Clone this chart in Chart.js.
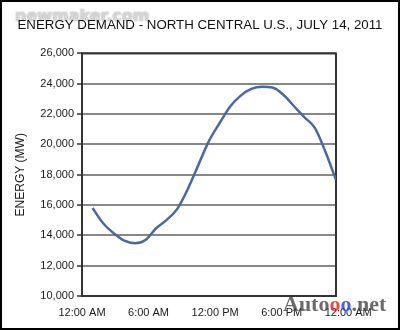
<!DOCTYPE html>
<html>
<head>
<meta charset="utf-8">
<script src="https://cdn.jsdelivr.net/npm/chart.js@4.4.1/dist/chart.umd.min.js"></script>
<style>
  body { margin: 0; background: #fff; }
  #frame { position: relative; width: 400px; height: 330px; box-sizing: border-box; border: 2px solid #000; background: #fff; overflow: hidden; }
  #demandChart { position: absolute; left: 0; top: 0; z-index: 1; }
  .mark { position: absolute; white-space: nowrap; pointer-events: none; }
  #markTop { left: 13px; top: 5.5px; z-index: 0; font: bold 16px/16px 'DejaVu Sans', sans-serif; color: #d6d6d6; text-shadow: 0 0 2px #aaa; }
  #markBottom { left: 281px; top: 290.6px; z-index: 2; font: bold 22px/22px 'Liberation Serif', serif; color: rgba(70, 70, 70, 0.8); }
</style>
</head>
<body>
<div id="frame">
  <span class="mark" id="markTop">newmaker.com</span>
  <canvas id="demandChart" width="396" height="326"></canvas>
  <span class="mark" id="markBottom">Auto<span style="color:rgba(235,40,40,0.85)">o</span><span style="color:rgba(40,70,235,0.85)">o</span>.net</span>
</div>
<script>
// hourly load, 1 AM .. midnight
const hours = [1, 2, 3, 4, 5, 6, 7, 8, 9, 10, 11, 12, 13, 14, 15, 16, 17, 18, 19, 20, 21, 22, 23, 24];
const demand = [15800, 14800, 14140, 13650, 13480, 13700, 14470, 15020, 15750, 17060, 18650, 20230,
  21400, 22500, 23220, 23660, 23800, 23750, 23290, 22550, 21800, 21090, 19520, 17660];

const timeLabels = ['12:00 AM', '6:00 AM', '12:00 PM', '6:00 PM', '12:00 AM'];
const timeTickHours = [0, 6, 12, 18, 24];

Chart.defaults.font.family = "'Liberation Sans', Arial, sans-serif";
Chart.defaults.color = '#1a1a1a';

// dark box around the plot area
const plotFrame = {
  id: 'plotFrame',
  beforeDatasetsDraw(chart) {
    const { ctx, chartArea: a } = chart;
    ctx.save();
    ctx.strokeStyle = '#333';
    ctx.lineWidth = 2;
    ctx.strokeRect(a.left, a.top, a.right - a.left, a.bottom - a.top);
    ctx.restore();
  }
};

const ctx = document.getElementById('demandChart');

new Chart(ctx, {
  type: 'line',
  data: {
    datasets: [{
      data: hours.map((h, i) => ({ x: h, y: demand[i] })),
      borderColor: '#4a68a6',
      borderWidth: 2.5,
      pointRadius: 0,
      cubicInterpolationMode: 'monotone',
      fill: false,
      xAxisID: 'x',
      yAxisID: 'y'
    }]
  },
  options: {
    responsive: false,
    animation: false,
    layout: { padding: 0 },
    plugins: {
      legend: { display: false },
      tooltip: { enabled: false },
      title: {
        display: true,
        text: 'ENERGY DEMAND - NORTH CENTRAL U.S., JULY 14, 2011',
        color: '#111',
        font: { size: 13.3, weight: 'normal' },
        padding: { top: 15.5, bottom: 20 }
      }
    },
    scales: {
      x: {
        type: 'linear',
        min: 0,
        max: 24,
        display: false
      },
      // label row under the plot
      xl: {
        type: 'linear',
        position: 'bottom',
        min: 0,
        max: 22.9,
        afterBuildTicks: (scale) => {
          scale.ticks = timeTickHours.map((v) => ({ value: v }));
        },
        afterFit: (scale) => { scale.height = 32; },
        grid: { display: false, drawTicks: false },
        border: { display: false },
        ticks: {
          autoSkip: false,
          maxRotation: 0,
          padding: 10,
          font: { size: 11 },
          callback: (v, i) => timeLabels[i]
        }
      },
      y: {
        min: 10000,
        max: 26000,
        afterFit: (scale) => { scale.width = 80; },
        border: { display: false },
        grid: { color: '#888', lineWidth: 2, tickLength: 5, tickColor: '#666' },
        ticks: {
          stepSize: 2000,
          padding: 3,
          font: { size: 11 },
          callback: (v) => v.toLocaleString('en-US')
        },
        title: {
          display: true,
          text: 'ENERGY (MW)',
          font: { size: 12 },
          padding: { top: 11, bottom: 0 }
        }
      },
      // empty strip on the right of the plot
      yr: {
        position: 'right',
        afterFit: (scale) => { scale.width = 62; },
        grid: { display: false, drawTicks: false },
        border: { display: false },
        ticks: { display: false }
      }
    }
  },
  plugins: [plotFrame]
});
</script>
</body>
</html>
